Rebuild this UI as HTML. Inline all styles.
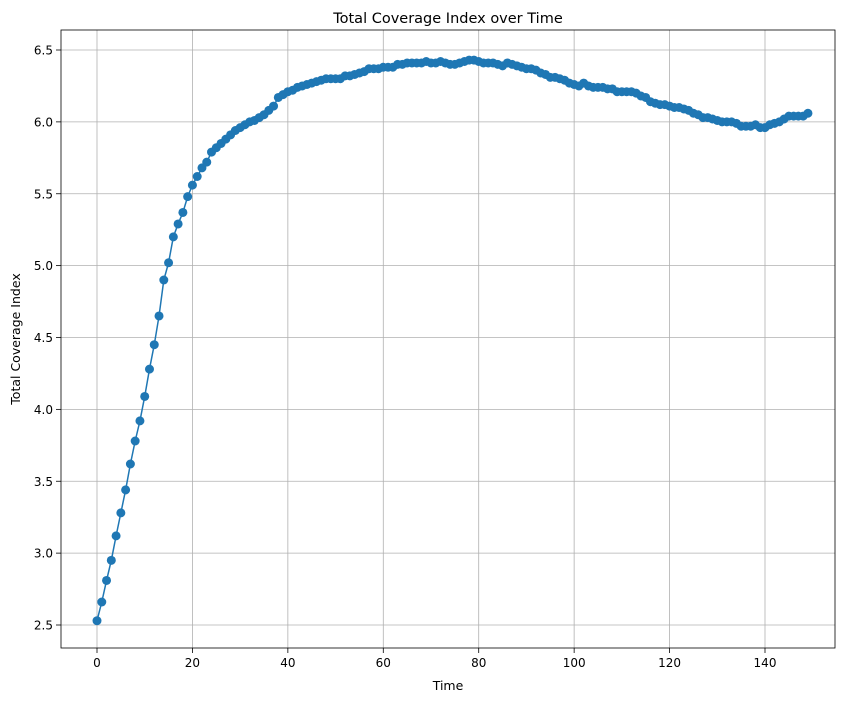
<!DOCTYPE html>
<html><head><meta charset="utf-8"><style>
body{margin:0;background:#fff;font-family:"Liberation Sans","DejaVu Sans",sans-serif}
svg text{font-family:"DejaVu Sans","Liberation Sans",sans-serif;fill:#000}
</style></head><body>
<svg id="c" width="846" height="701" xmlns="http://www.w3.org/2000/svg"></svg>
<script>
const xTicks=[0,20,40,60,80,100,120,140];
const yTicks=[2.5,3.0,3.5,4.0,4.5,5.0,5.5,6.0,6.5];
const yTickLabels=["2.5","3.0","3.5","4.0","4.5","5.0","5.5","6.0","6.5"];
const values=[2.53,2.66,2.81,2.95,3.12,3.28,3.44,3.62,3.78,3.92,4.09,4.28,4.45,4.65,4.90,5.02,5.20,5.29,5.37,5.48,5.56,5.62,5.68,5.72,5.79,5.82,5.85,5.88,5.91,5.94,5.96,5.98,6.00,6.01,6.03,6.05,6.08,6.11,6.17,6.19,6.21,6.22,6.24,6.25,6.26,6.27,6.28,6.29,6.30,6.30,6.30,6.30,6.32,6.32,6.33,6.34,6.35,6.37,6.37,6.37,6.38,6.38,6.38,6.40,6.40,6.41,6.41,6.41,6.41,6.42,6.41,6.41,6.42,6.41,6.40,6.40,6.41,6.42,6.43,6.43,6.42,6.41,6.41,6.41,6.40,6.39,6.41,6.40,6.39,6.38,6.37,6.37,6.36,6.34,6.33,6.31,6.31,6.30,6.29,6.27,6.26,6.25,6.27,6.25,6.24,6.24,6.24,6.23,6.23,6.21,6.21,6.21,6.21,6.20,6.18,6.17,6.14,6.13,6.12,6.12,6.11,6.10,6.10,6.09,6.08,6.06,6.05,6.03,6.03,6.02,6.01,6.00,6.00,6.00,5.99,5.97,5.97,5.97,5.98,5.96,5.96,5.98,5.99,6.00,6.02,6.04,6.04,6.04,6.04,6.06];
const NS="http://www.w3.org/2000/svg",svg=document.getElementById('c');
const L=61,R=835,T=30,B=648;
const x=t=>97+t*(765-97)/140;
const y=v=>625-(v-2.5)*(625-50)/4;
function mk(tag,attrs,parent){const e=document.createElementNS(NS,tag);for(const k in attrs)e.setAttribute(k,attrs[k]);(parent||svg).appendChild(e);return e;}
const grid=mk('g',{});


xTicks.forEach(t=>{
 mk('line',{x1:x(t),x2:x(t),y1:T,y2:B,stroke:'#b0b0b0','stroke-width':0.8},grid);
 mk('line',{x1:x(t),x2:x(t),y1:B,y2:B+5,stroke:'#000','stroke-width':0.8});
 const tx=mk('text',{x:x(t),y:B+19,'text-anchor':'middle','font-size':12});
 
 
 tx.textContent=t;
});
yTicks.forEach((v,i)=>{
 mk('line',{x1:L,x2:R,y1:y(v),y2:y(v),stroke:'#b0b0b0','stroke-width':0.8},grid);
 mk('line',{x1:L-5,x2:L,y1:y(v),y2:y(v),stroke:'#000','stroke-width':0.8});
 const tx=mk('text',{x:L-8,y:y(v)+4.5,'text-anchor':'end','font-size':12});
 
 
 tx.textContent=yTickLabels[i];
});
const line=mk('polyline',{points:values.map((v,i)=>x(i)+','+y(v)).join(' '),fill:'none',stroke:'#1f77b4','stroke-width':1.5});


values.forEach((v,i)=>{
 const c=mk('circle',{cx:x(i),cy:y(v),r:4.5,fill:'#1f77b4'});
 
 
});
const fr=mk('rect',{x:L,y:T,width:R-L,height:B-T,fill:'none',stroke:'#000','stroke-width':0.8});


const ti=mk('text',{x:(L+R)/2,y:T-7,'text-anchor':'middle','font-size':14.5});


ti.textContent='Total Coverage Index over Time';
const xl=mk('text',{x:(L+R)/2,y:B+42,'text-anchor':'middle','font-size':12.5});


xl.textContent='Time';
const yl=mk('text',{x:0,y:0,'text-anchor':'middle','font-size':12.5,transform:`translate(20,${(T+B)/2}) rotate(-90)`});


yl.textContent='Total Coverage Index';
</script>
</body></html>
